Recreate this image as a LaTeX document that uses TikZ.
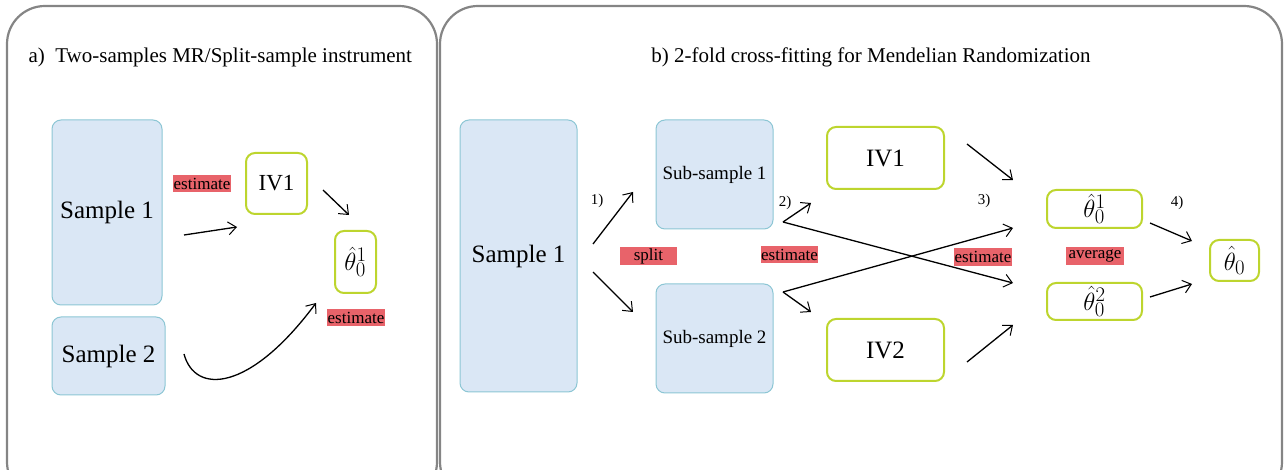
\documentclass[tikz,border=0pt]{standalone}
\usepackage{fontspec}
\setmainfont{Liberation Serif}
\usetikzlibrary{arrows.meta}
\definecolor{sblue}{HTML}{DAE7F5}
\definecolor{sborder}{HTML}{8CC6D4}
\definecolor{ivgreen}{HTML}{BDD52E}
\definecolor{lred}{HTML}{E8636A}
\definecolor{panelgray}{HTML}{858585}
\newcommand{\fs}[1]{\fontsize{#1}{#1}\selectfont}
\tikzset{
  panel/.style={draw=panelgray, line width=2.2pt, rounded corners=38pt},
  samplebox/.style={draw=sborder, fill=sblue, line width=1pt, rounded corners=9pt, inner sep=0pt},
  ivbox/.style={draw=ivgreen, fill=white, line width=2pt, rounded corners=9pt, inner sep=0pt},
  thbox/.style={ivbox, font=\fs{28}},
  redlab/.style={fill=lred, inner sep=0pt, text=black, font=\fs{17}},
  numlab/.style={font=\fs{15}, inner sep=0pt},
  arr/.style={line width=1.3pt, -{Straight Barb[length=8pt,width=13pt,line width=1pt]}},
}
\begin{document}
\begin{tikzpicture}[x=1pt,y=-1pt]
\useasboundingbox (0,0) rectangle (1286,470);
\clip (0,0) rectangle (1286,470);
% panels
\draw[panel] (7,6) rectangle (437,500);
\draw[panel] (440,6) rectangle (1282,500);
% titles
\node[font=\fs{21}, anchor=west] (ta) at (25,57) {a)\ \ Two-samples MR/Split-sample instrument};
\node[font=\fs{21}] (tb) at (871,57) {b) 2-fold cross-fitting for Mendelian Randomization};

% ---- panel a ----
\node[samplebox, minimum width=110pt, minimum height=185pt, font=\fs{25}] (s1a) at (107,212.5) {Sample 1};
\node[samplebox, minimum width=113pt, minimum height=78pt, font=\fs{25}] (s2a) at (108.5,356) {Sample 2};
\node[ivbox, minimum width=61pt, minimum height=61pt, font=\fs{23}] (iv1a) at (276.5,183.5) {IV1};
\node[thbox, minimum width=41pt, minimum height=62pt] (tha) at (355.5,262) {$\hat{\theta}_0^1$};
\node[redlab, minimum width=58pt, minimum height=17pt] (estA1) at (202,183.5) {estimate};
\node[redlab, minimum width=58pt, minimum height=17pt] (estA2) at (356,317.5) {estimate};

\coordinate (a1s) at (184,235);
\coordinate (a1e) at (237,227);
\coordinate (a2s) at (323,190);
\coordinate (a2e) at (349,215);
\coordinate (a3s) at (184,354);
\coordinate (a3e) at (316,303);
\draw[arr] (a1s) -- (a1e);
\draw[arr] (a2s) -- (a2e);
\draw[arr] (a3s) .. controls (195,395) and (250,392) .. (a3e);

% ---- panel b ----
\node[samplebox, minimum width=117pt, minimum height=272pt, font=\fs{25}] (s1b) at (518.5,256) {Sample 1};
\node[samplebox, minimum width=117pt, minimum height=109pt, font=\fs{19}] (sub1) at (714.5,174.5) {Sub-sample 1};
\node[samplebox, minimum width=117pt, minimum height=109pt, font=\fs{19}] (sub2) at (714.5,338.5) {Sub-sample 2};
\node[ivbox, minimum width=117pt, minimum height=62pt, font=\fs{25}] (iv1b) at (885.5,158) {IV1};
\node[ivbox, minimum width=117pt, minimum height=62pt, font=\fs{25}] (iv2b) at (885.5,350) {IV2};
\node[thbox, minimum width=95pt, minimum height=38pt] (th1) at (1094.5,209) {$\hat{\theta}_0^1$};
\node[thbox, minimum width=95pt, minimum height=37pt] (th2) at (1094.5,301.5) {$\hat{\theta}_0^2$};
\node[thbox, minimum width=49pt, minimum height=41pt] (th0) at (1234.5,260.5) {$\hat{\theta}_0$};

\node[redlab, minimum width=57pt, minimum height=18pt] (split) at (648.5,256) {split};
\node[redlab, minimum width=57pt, minimum height=17pt] (estB1) at (789.5,254.5) {estimate};
\node[redlab, minimum width=58pt, minimum height=18pt] (estB2) at (983,257) {estimate};
\node[redlab, minimum width=58pt, minimum height=18pt] (avg) at (1095,256) {average};

\node[numlab] (n1) at (597,201) {1)};
\node[numlab] (n2) at (785,203) {2)};
\node[numlab] (n3) at (984,201) {3)};
\node[numlab] (n4) at (1177,203) {4)};

\coordinate (b1s) at (593,244);  \coordinate (b1e) at (633,192);
\coordinate (b2s) at (593,272);  \coordinate (b2e) at (633,312);
\coordinate (b3s) at (783,222);  \coordinate (b3e) at (811,203);
\coordinate (b4s) at (783,292);  \coordinate (b4e) at (811,312);
\coordinate (c1e) at (1013,283);
\coordinate (c2e) at (1013,228);
\coordinate (d1s) at (967,144);  \coordinate (d1e) at (1013,180);
\coordinate (d2s) at (967,362);  \coordinate (d2e) at (1013,325);
\coordinate (e1s) at (1150,223); \coordinate (e1e) at (1192,241);
\coordinate (e2s) at (1150,297); \coordinate (e2e) at (1192,284);

\draw[arr] (b1s) -- (b1e);
\draw[arr] (b2s) -- (b2e);
\draw[arr] (b3s) -- (b3e);
\draw[arr] (b4s) -- (b4e);
\draw[arr] (b3s) -- (c1e);
\draw[arr] (b4s) -- (c2e);
\draw[arr] (d1s) -- (d1e);
\draw[arr] (d2s) -- (d2e);
\draw[arr] (e1s) -- (e1e);
\draw[arr] (e2s) -- (e2e);
\end{tikzpicture}
\end{document}
